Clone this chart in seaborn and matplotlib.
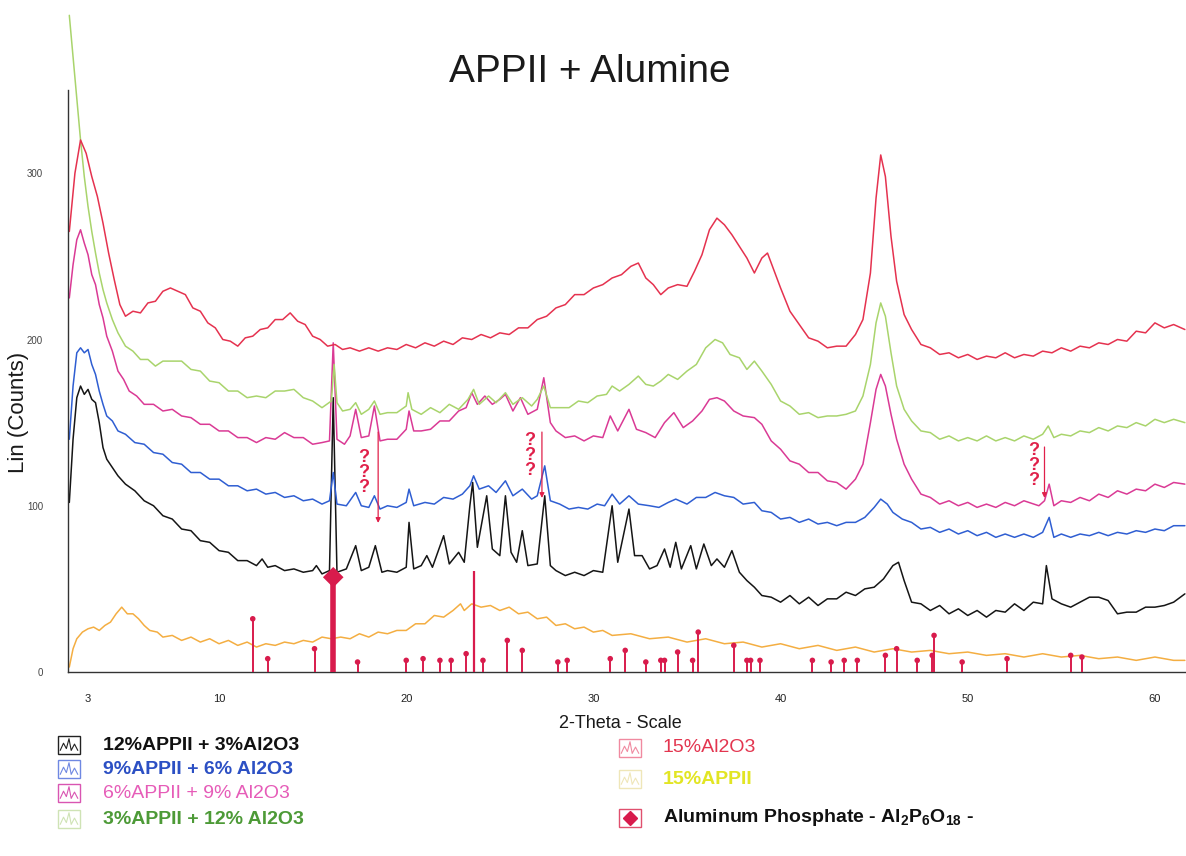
import numpy as np
import pandas as pd
import seaborn as sns
import matplotlib.pyplot as plt
from matplotlib.patches import Rectangle
from matplotlib.lines import Line2D

# ---- data (2-theta in degrees, counts) ----
red_pts = [(2.0, 265), (2.3, 300), (2.6, 320), (2.9, 312), (3.2, 298), (3.5, 286), (3.8, 270), (4.1, 252),
           (4.4, 236), (4.7, 221), (5.0, 214), (5.4, 217), (5.8, 216), (6.2, 222), (6.6, 223), (7.0, 229),
           (7.4, 231), (7.8, 229), (8.2, 227), (8.6, 219), (9.0, 217), (9.4, 210), (9.8, 207), (10.2, 200),
           (10.6, 199), (11.0, 196), (11.4, 201), (11.8, 202), (12.2, 206), (12.6, 207), (13.0, 212), (13.4, 212),
           (13.8, 216), (14.2, 211), (14.6, 209), (15.0, 202), (15.4, 200), (15.8, 196), (16.2, 197), (16.6, 194),
           (17.0, 195), (17.5, 193), (18.0, 195), (18.5, 193), (19.0, 195), (19.5, 194), (20.0, 197), (20.5, 195),
           (21.0, 198), (21.5, 196), (22.0, 199), (22.5, 197), (23.0, 201), (23.5, 200), (24.0, 203), (24.5, 201),
           (25.0, 204), (25.5, 203), (26.0, 207), (26.5, 207), (27.0, 212), (27.5, 214), (28.0, 219), (28.5, 221),
           (29.0, 227), (29.5, 227), (30.0, 231), (30.5, 233), (31.0, 237), (31.5, 239), (32.0, 244), (32.4, 246),
           (32.8, 237), (33.2, 233), (33.6, 227), (34.0, 231), (34.5, 233), (35.0, 232), (35.4, 241), (35.8, 251),
           (36.2, 266), (36.6, 273), (37.0, 269), (37.4, 263), (37.8, 256), (38.2, 249), (38.6, 240), (39.0, 249),
           (39.3, 252), (39.6, 243), (40.0, 231), (40.5, 217), (41.0, 209), (41.5, 201), (42.0, 199), (42.5, 195),
           (43.0, 196), (43.5, 196), (44.0, 203), (44.4, 212), (44.8, 240), (45.1, 285), (45.35, 311), (45.6, 298),
           (45.9, 262), (46.2, 235), (46.6, 215), (47.0, 206), (47.5, 197), (48.0, 195), (48.5, 191), (49.0, 192),
           (49.5, 189), (50.0, 191), (50.5, 188), (51.0, 190), (51.5, 189), (52.0, 192), (52.5, 189), (53.0, 191),
           (53.5, 190), (54.0, 193), (54.5, 192), (55.0, 195), (55.5, 193), (56.0, 196), (56.5, 195), (57.0, 198),
           (57.5, 197), (58.0, 200), (58.5, 199), (59.0, 205), (59.5, 204), (60.0, 210), (60.5, 207), (61.0, 209),
           (61.6, 206)]

green_pts = [(2.0, 395), (2.2, 370), (2.4, 345), (2.6, 320), (2.8, 298), (3.0, 280), (3.2, 265), (3.4, 252),
             (3.6, 240), (3.8, 230), (4.0, 222), (4.3, 212), (4.6, 204), (5.0, 196), (5.4, 193), (5.8, 188),
             (6.2, 188), (6.6, 184), (7.0, 187), (7.5, 187), (8.0, 187), (8.5, 182), (9.0, 181), (9.5, 175),
             (10.0, 174), (10.5, 169), (11.0, 169), (11.5, 165), (12.0, 166), (12.5, 165), (13.0, 169), (13.5, 169),
             (14.0, 170), (14.5, 165), (15.0, 163), (15.5, 159), (16.0, 163), (16.15, 185), (16.3, 162), (16.6, 157),
             (17.0, 158), (17.3, 162), (17.6, 155), (18.0, 158), (18.3, 163), (18.6, 155), (19.0, 156), (19.5, 156),
             (20.0, 160), (20.1, 168), (20.3, 158), (20.8, 155), (21.3, 159), (21.8, 156), (22.3, 161), (22.8, 158),
             (23.3, 164), (23.6, 170), (23.9, 161), (24.4, 166), (24.8, 162), (25.3, 168), (25.7, 161), (26.2, 165),
             (26.7, 160), (27.0, 164), (27.35, 172), (27.7, 159), (28.2, 159), (28.7, 159), (29.2, 163), (29.7, 162),
             (30.2, 166), (30.7, 167), (31.0, 172), (31.4, 169), (31.9, 173), (32.4, 178), (32.8, 173), (33.2, 172),
             (33.6, 175), (34.0, 179), (34.5, 176), (35.0, 181), (35.5, 185), (36.0, 195), (36.5, 200), (36.9, 198),
             (37.3, 191), (37.8, 189), (38.2, 182), (38.6, 187), (39.0, 181), (39.5, 173), (40.0, 163), (40.5, 160),
             (41.0, 155), (41.5, 156), (42.0, 153), (42.5, 154), (43.0, 154), (43.5, 155), (44.0, 157), (44.4, 166),
             (44.8, 185), (45.1, 210), (45.35, 222), (45.6, 214), (45.9, 192), (46.2, 172), (46.6, 158), (47.0, 151),
             (47.5, 145), (48.0, 144), (48.5, 140), (49.0, 142), (49.5, 139), (50.0, 141), (50.5, 139), (51.0, 142),
             (51.5, 139), (52.0, 141), (52.5, 139), (53.0, 142), (53.5, 140), (54.0, 143), (54.3, 148), (54.6, 141),
             (55.0, 143), (55.5, 142), (56.0, 145), (56.5, 144), (57.0, 147), (57.5, 145), (58.0, 148), (58.5, 147),
             (59.0, 150), (59.5, 148), (60.0, 152), (60.5, 150), (61.0, 152), (61.6, 150)]

magenta_pts = [(2.0, 225), (2.2, 245), (2.4, 260), (2.6, 266), (2.8, 258), (3.0, 251), (3.2, 239), (3.4, 233),
               (3.6, 221), (3.8, 213), (4.0, 202), (4.3, 193), (4.6, 181), (4.9, 176), (5.2, 169), (5.6, 166),
               (6.0, 161), (6.5, 161), (7.0, 157), (7.5, 158), (8.0, 154), (8.5, 153), (9.0, 149), (9.5, 149),
               (10.0, 145), (10.5, 145), (11.0, 141), (11.5, 141), (12.0, 138), (12.5, 141), (13.0, 140),
               (13.5, 144), (14.0, 141), (14.5, 141), (15.0, 137), (15.5, 138), (15.9, 139), (16.1, 198), (16.3, 140),
               (16.7, 137), (17.0, 142), (17.3, 158), (17.6, 141), (18.0, 142), (18.3, 160), (18.6, 139), (19.0, 140),
               (19.5, 140), (20.0, 146), (20.15, 157), (20.4, 145), (20.8, 145), (21.3, 146), (21.8, 151), (22.3, 151),
               (22.8, 157), (23.2, 159), (23.5, 168), (23.8, 161), (24.2, 166), (24.6, 161), (25.0, 164), (25.3, 167),
               (25.7, 157), (26.1, 165), (26.5, 155), (27.0, 158), (27.35, 177), (27.7, 150), (28.0, 145),
               (28.5, 141), (29.0, 142), (29.5, 139), (30.0, 142), (30.5, 141), (30.9, 154), (31.3, 145), (31.9, 158),
               (32.3, 146), (32.8, 144), (33.3, 141), (33.8, 150), (34.3, 156), (34.8, 147), (35.3, 151), (35.8, 157),
               (36.2, 164), (36.6, 165), (37.0, 163), (37.5, 157), (38.0, 154), (38.6, 153), (39.0, 149), (39.5, 139),
               (40.0, 134), (40.5, 127), (41.0, 125), (41.5, 120), (42.0, 120), (42.5, 115), (43.0, 114), (43.5, 110),
               (44.0, 116), (44.4, 125), (44.8, 150), (45.1, 170), (45.35, 179), (45.6, 172), (45.9, 155),
               (46.2, 140), (46.6, 125), (47.0, 116), (47.5, 107), (48.0, 105), (48.5, 101), (49.0, 103), (49.5, 100),
               (50.0, 102), (50.5, 99), (51.0, 101), (51.5, 99), (52.0, 102), (52.5, 100), (53.0, 103), (53.8, 100),
               (54.1, 103), (54.35, 113), (54.6, 100), (55.0, 103), (55.5, 102), (56.0, 105), (56.5, 103),
               (57.0, 107), (57.5, 105), (58.0, 109), (58.5, 107), (59.0, 110), (59.5, 109), (60.0, 113),
               (60.5, 111), (61.0, 114), (61.6, 113)]

blue_pts = [(2.0, 140), (2.2, 172), (2.4, 192), (2.6, 195), (2.8, 192), (3.0, 194), (3.2, 185), (3.4, 179),
            (3.6, 169), (3.8, 161), (4.0, 154), (4.3, 151), (4.6, 145), (5.0, 143), (5.5, 138), (6.0, 137),
            (6.5, 132), (7.0, 131), (7.5, 126), (8.0, 125), (8.5, 120), (9.0, 120), (9.5, 116), (10.0, 116),
            (10.5, 112), (11.0, 112), (11.5, 109), (12.0, 110), (12.5, 107), (13.0, 108), (13.5, 105), (14.0, 106),
            (14.5, 103), (15.0, 104), (15.5, 101), (15.9, 103), (16.1, 120), (16.3, 101), (16.8, 100), (17.3, 108),
            (17.6, 100), (18.0, 99), (18.3, 106), (18.6, 98), (19.0, 100), (19.5, 99), (20.0, 102), (20.15, 110),
            (20.4, 100), (21.0, 102), (21.5, 101), (22.0, 105), (22.5, 104), (23.0, 107), (23.4, 112), (23.6, 118),
            (23.9, 110), (24.4, 112), (24.8, 108), (25.3, 115), (25.7, 106), (26.2, 110), (26.7, 104), (27.0, 106),
            (27.4, 124), (27.7, 103), (28.2, 101), (28.7, 98), (29.2, 99), (29.7, 98), (30.2, 101), (30.6, 100),
            (31.0, 107), (31.4, 101), (31.9, 106), (32.4, 101), (33.0, 100), (33.5, 99), (34.0, 102), (34.4, 104),
            (35.0, 101), (35.5, 105), (36.0, 105), (36.5, 108), (37.0, 106), (37.5, 105), (38.0, 101), (38.6, 102),
            (39.0, 97), (39.5, 96), (40.0, 92), (40.5, 93), (41.0, 90), (41.5, 92), (42.0, 89), (42.5, 90),
            (43.0, 88), (43.5, 90), (44.0, 90), (44.5, 93), (45.0, 99), (45.35, 104), (45.7, 101), (46.0, 96),
            (46.5, 92), (47.0, 90), (47.5, 86), (48.0, 87), (48.5, 84), (49.0, 86), (49.5, 83), (50.0, 85),
            (50.5, 82), (51.0, 84), (51.5, 81), (52.0, 83), (52.5, 81), (53.0, 83), (53.5, 81), (54.0, 84),
            (54.35, 93), (54.6, 81), (55.0, 83), (55.5, 81), (56.0, 83), (56.5, 82), (57.0, 84), (57.5, 82),
            (58.0, 84), (58.5, 83), (59.0, 85), (59.5, 84), (60.0, 86), (60.5, 85), (61.0, 88), (61.6, 88)]

black_pts = [(2.0, 102), (2.2, 140), (2.4, 165), (2.6, 172), (2.8, 167), (3.0, 170), (3.2, 164), (3.4, 162),
             (3.6, 150), (3.8, 135), (4.0, 128), (4.3, 123), (4.6, 118), (5.0, 113), (5.5, 109), (6.0, 103),
             (6.5, 100), (7.0, 94), (7.5, 92), (8.0, 86), (8.5, 85), (9.0, 79), (9.5, 78), (10.0, 73), (10.5, 72),
             (11.0, 67), (11.5, 67), (12.0, 64), (12.3, 68), (12.6, 63), (13.0, 64), (13.5, 61), (14.0, 62),
             (14.5, 60), (15.0, 61), (15.2, 64), (15.5, 59), (15.9, 61), (16.1, 165), (16.3, 60), (16.8, 62),
             (17.3, 76), (17.6, 61), (18.0, 63), (18.35, 76), (18.7, 60), (19.0, 61), (19.5, 60), (20.0, 63),
             (20.15, 90), (20.4, 62), (20.8, 64), (21.1, 70), (21.4, 63), (22.0, 82), (22.3, 65), (22.8, 72),
             (23.1, 66), (23.4, 100), (23.55, 114), (23.8, 75), (24.3, 106), (24.6, 74), (25.0, 70), (25.3, 106),
             (25.6, 72), (25.9, 66), (26.2, 85), (26.5, 64), (27.0, 65), (27.4, 106), (27.7, 64), (28.0, 61),
             (28.5, 58), (29.0, 60), (29.5, 58), (30.0, 61), (30.5, 60), (31.0, 100), (31.3, 66), (31.9, 98),
             (32.2, 70), (32.6, 70), (33.0, 62), (33.4, 64), (33.8, 74), (34.1, 63), (34.4, 78), (34.7, 62),
             (35.2, 76), (35.5, 62), (35.9, 77), (36.3, 64), (36.6, 68), (37.0, 63), (37.4, 73), (37.8, 60),
             (38.2, 55), (38.6, 51), (39.0, 46), (39.5, 45), (40.0, 42), (40.5, 46), (41.0, 41), (41.5, 45),
             (42.0, 40), (42.5, 44), (43.0, 44), (43.5, 48), (44.0, 46), (44.5, 50), (45.0, 51), (45.5, 56),
             (46.0, 64), (46.3, 66), (46.6, 55), (47.0, 42), (47.5, 41), (48.0, 37), (48.5, 40), (49.0, 35),
             (49.5, 38), (50.0, 34), (50.5, 37), (51.0, 33), (51.5, 37), (52.0, 36), (52.5, 41), (53.0, 37),
             (53.5, 42), (54.0, 41), (54.2, 64), (54.5, 44), (55.0, 41), (55.5, 39), (56.0, 42), (56.5, 45),
             (57.0, 45), (57.5, 43), (58.0, 35), (58.5, 36), (59.0, 36), (59.5, 39), (60.0, 39), (60.5, 40),
             (61.0, 42), (61.6, 47)]

orange_pts = [(2.0, 3), (2.2, 14), (2.4, 20), (2.7, 24), (3.0, 26), (3.3, 27), (3.6, 25), (3.9, 28), (4.2, 30),
              (4.5, 35), (4.8, 39), (5.1, 35), (5.4, 35), (5.7, 32), (6.0, 28), (6.3, 25), (6.7, 24), (7.0, 21),
              (7.5, 22), (8.0, 19), (8.5, 21), (9.0, 18), (9.5, 20), (10.0, 17), (10.5, 19), (11.0, 16), (11.5, 18),
              (12.0, 15), (12.5, 17), (13.0, 16), (13.5, 18), (14.0, 17), (14.5, 19), (15.0, 18), (15.5, 21),
              (16.0, 20), (16.5, 21), (17.0, 20), (17.5, 23), (18.0, 21), (18.5, 24), (19.0, 23), (19.5, 25),
              (20.0, 25), (20.5, 29), (21.0, 29), (21.5, 34), (22.0, 33), (22.5, 37), (22.9, 41), (23.1, 37),
              (23.5, 41), (24.0, 39), (24.5, 40), (25.0, 37), (25.5, 39), (26.0, 35), (26.5, 36), (27.0, 32),
              (27.5, 33), (28.0, 28), (28.5, 29), (29.0, 26), (29.5, 27), (30.0, 24), (30.5, 25), (31.0, 22),
              (32.0, 23), (33.0, 20), (34.0, 21), (35.0, 18), (36.0, 20), (37.0, 17), (38.0, 18), (39.0, 15),
              (40.0, 17), (41.0, 14), (42.0, 16), (43.0, 13), (44.0, 15), (45.0, 12), (46.0, 14), (47.0, 12),
              (48.0, 13), (49.0, 11), (50.0, 12), (51.0, 10), (52.0, 11), (53.0, 9), (54.0, 11), (55.0, 9),
              (56.0, 10), (57.0, 8), (58.0, 9), (59.0, 7), (60.0, 9), (61.0, 7), (61.6, 7)]

# Aluminum phosphate reference pattern (stick positions / heights)
stick_pos = [11.8, 12.6, 15.1, 17.4, 20.0, 20.9, 21.8, 22.4, 23.2, 24.1, 25.4, 26.2, 28.1, 28.6, 30.9,
             31.7, 32.8, 33.6, 33.8, 34.5, 35.3, 35.6, 37.5, 38.2, 38.4, 38.9, 41.7, 42.7, 43.4, 44.1,
             45.6, 46.2, 47.3, 48.1, 48.2, 49.7, 52.1, 55.5, 56.1]
stick_h = [32, 8, 14, 6, 7, 8, 7, 7, 11, 7, 19, 13, 6, 7, 8,
           13, 6, 7, 7, 12, 7, 24, 16, 7, 7, 7, 7, 6, 7, 7,
           10, 14, 7, 10, 22, 6, 8, 10, 9]
main_stick = (16.1, 57)
tall_stick = (23.6, 61)

series = ['15%APPII', '12%APPII + 3%Al2O3', '9%APPII + 6% Al2O3',
          '6%APPII + 9% Al2O3', '3%APPII + 12% Al2O3', '15%Al2O3']
points = [orange_pts, black_pts, blue_pts, magenta_pts, green_pts, red_pts]
colors = ['#f4ae42', '#151515', '#2f5ed2', '#da3a95', '#a9d46c', '#e5324f']
stick_color = '#d81b4c'

rows = []
for name, pts in zip(series, points):
    for tt, cnt in pts:
        rows.append({'sample': name, 'two_theta': tt, 'counts': cnt})
df = pd.DataFrame(rows)

sns.set_style('white')
plt.rcParams['font.family'] = ['Liberation Sans', 'DejaVu Sans']
plt.rcParams['mathtext.fontset'] = 'custom'
plt.rcParams['mathtext.rm'] = 'Liberation Sans'
plt.rcParams['mathtext.bf'] = 'Liberation Sans:bold'

W, H = 1186, 856
fig = plt.figure(figsize=(W / 100, H / 100), dpi=100)
ax = fig.add_axes([68 / W, 184 / H, 1 - 68 / W, 665 / H])

sns.lineplot(data=df, x='two_theta', y='counts', hue='sample', hue_order=series,
             palette=dict(zip(series, colors)), sort=False, estimator=None,
             linewidth=1.1, legend=False, ax=ax)

# reference sticks
ax.vlines(stick_pos, 0, stick_h, color=stick_color, lw=1.4, zorder=3)
sns.scatterplot(x=stick_pos, y=stick_h, color=stick_color, s=16, edgecolor='none', ax=ax, zorder=4)
ax.vlines([tall_stick[0]], 0, [tall_stick[1]], color=stick_color, lw=1.6, zorder=3)
ax.vlines([main_stick[0]], 0, [main_stick[1]], color=stick_color, lw=4, zorder=3)
sns.scatterplot(x=[main_stick[0]], y=[main_stick[1]], color=stick_color, marker='D', s=110,
                edgecolor='none', ax=ax, zorder=5)

# "???" annotations
for qx, qy, lx, y0, y1 in [(17.75, 120, 18.5, 146, 88), (26.6, 130, 27.25, 146, 103), (53.5, 124, 54.1, 137, 103)]:
    ax.text(qx, qy, '?\n?\n?', color='#e0204a', fontsize=13, fontweight='bold', ha='center', va='center',
            linespacing=0.85)
    ax.annotate('', xy=(lx, y1), xytext=(lx, y0),
                arrowprops=dict(arrowstyle='-|>', color='#e0204a', lw=0.9, mutation_scale=7))

ax.set_xlim(1.93, 61.66)
ax.set_ylim(0, 400)
for s in ['top', 'right']:
    ax.spines[s].set_visible(False)
ax.spines['left'].set_bounds(0, 350)
ax.spines['left'].set_color('#333333')
ax.spines['bottom'].set_color('#333333')
ax.spines['left'].set_linewidth(1.0)
ax.spines['bottom'].set_linewidth(1.0)

ax.set_xticks([3, 10, 20, 30, 40, 50, 60])
ax.set_xticks(np.arange(2, 62, 1), minor=True)
ax.set_yticks([0, 100, 200, 300])
ax.set_yticks(np.arange(0, 351, 10), minor=True)
ax.tick_params(axis='x', which='major', direction='inout', length=8, width=0.8, pad=12, labelsize=8, colors='#222222')
ax.tick_params(axis='x', which='minor', direction='inout', length=5, width=0.7, colors='#444444')
ax.tick_params(axis='y', which='major', direction='out', length=6, width=0.8, pad=12, labelsize=7, colors='#444444')
ax.tick_params(axis='y', which='minor', direction='out', length=4, width=0.6, colors='#555555')
ax.set_xlabel('')
ax.set_ylabel('')

fig.text(590 / W, 1 - 72 / H, 'APPII + Alumine', fontsize=28, ha='center', va='center', color='#1a1a1a')
fig.text(19 / W, 1 - 412 / H, 'Lin (Counts)', fontsize=16, rotation=90, ha='center', va='center', color='#1a1a1a')
fig.text(620 / W, 1 - 723 / H, '2-Theta - Scale', fontsize=13, ha='center', va='center', color='#1a1a1a')


def legend_icon(x, y, color, diamond=False):
    fx, fy = x / W, 1 - y / H
    w, h = 22 / W, 18 / H
    fig.add_artist(Rectangle((fx - w / 2, fy - h / 2), w, h, transform=fig.transFigure,
                             fill=False, edgecolor=color, lw=1.0))
    if diamond:
        fig.add_artist(Line2D([fx], [fy], marker='D', color=stick_color, ms=7, transform=fig.transFigure))
    else:
        zx = np.array([-0.4, -0.25, -0.12, 0.0, 0.1, 0.25, 0.4]) * w
        zy = np.array([-0.3, 0.1, -0.2, 0.35, -0.3, 0.05, -0.3]) * h
        fig.add_artist(Line2D(fx + zx, fy + zy, color=color, lw=0.8, transform=fig.transFigure))


left_legend = [
    (745, '#222222', '12%APPII + 3%Al2O3', '#111111', 'bold'),
    (769, '#6f88e2', '9%APPII + 6% Al2O3', '#2c50c4', 'bold'),
    (793, '#d955b2', '6%APPII + 9% Al2O3', '#e65cb8', 'normal'),
    (819, '#cfe3b5', '3%APPII + 12% Al2O3', '#4d9a37', 'bold'),
]
for y, icol, label, tcol, weight in left_legend:
    legend_icon(69, y, icol)
    fig.text(103 / W, 1 - y / H, label, fontsize=14, color=tcol, fontweight=weight, va='center', ha='left')

right_legend = [
    (748, '#f08aa0', '15%Al2O3', '#e3354f', 'normal', False),
    (779, '#efe6b8', '15%APPII', '#e2e524', 'bold', False),
    (818, '#e0506e', 'Aluminum Phosphate - Al$_\\mathbf{2}$P$_\\mathbf{6}$O$_\\mathbf{18}$ -', '#111111', 'bold', True),
]
for y, icol, label, tcol, weight, dia in right_legend:
    legend_icon(630, y, icol, diamond=dia)
    fig.text(663 / W, 1 - y / H, label, fontsize=14, color=tcol, fontweight=weight, va='center', ha='left')

fig.savefig('out.png', dpi=100)
